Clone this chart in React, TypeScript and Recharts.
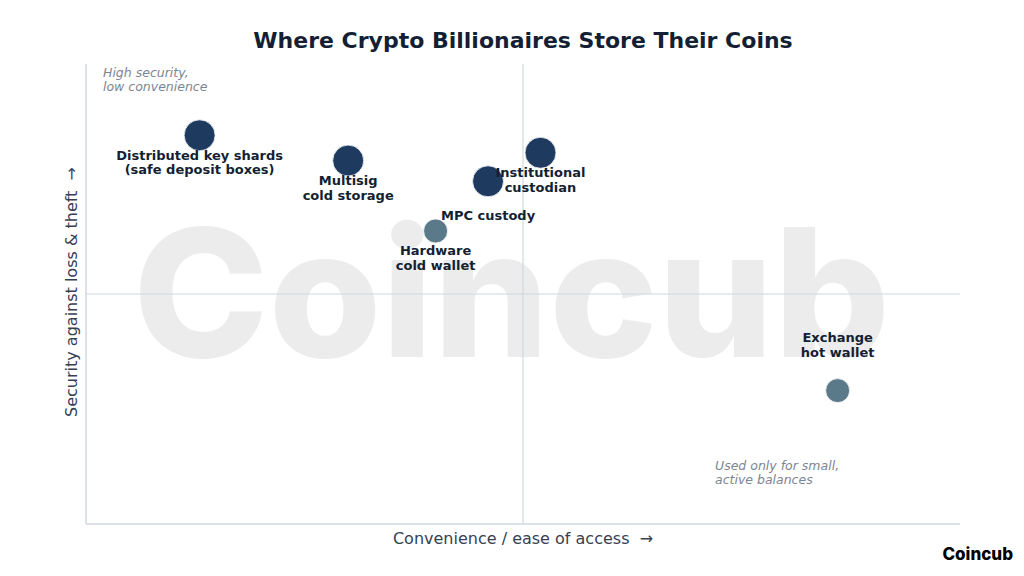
import { ScatterChart, Scatter, XAxis, YAxis, ReferenceLine, Cell } from "recharts";

const names = [
  "Distributed key shards\n(safe deposit boxes)",
  "Multisig\ncold storage",
  "MPC custody",
  "Institutional\ncustodian",
  "Hardware\ncold wallet",
  "Exchange\nhot wallet",
];
const convenience = [1.3, 3.0, 4.6, 5.2, 4.0, 8.6];
const security = [8.45, 7.9, 7.45, 8.07, 6.37, 2.9];
const tier = ["vault", "vault", "vault", "vault", "device", "hot"];

const data = names.map((name, i) => ({
  name,
  x: convenience[i],
  y: security[i],
  tier: tier[i],
}));

// label offset from the dot centre, per point
const labelOffset: Record<string, number> = {
  "MPC custody": 34,
  "Exchange\nhot wallet": -53,
};

const FONT = "'DejaVu Sans', sans-serif";
const DARK = "#1e3a5f";
const LIGHT = "#5b7a89";
const TEXT = "#141f33";
const GRID = "#cfd8e3";

function Dot(props: any) {
  const { cx, cy, payload } = props;
  const big = payload.tier === "vault";
  const r = big ? 15.5 : 12;
  const dy = labelOffset[payload.name] ?? 20;
  const lines = payload.name.split("\n");
  return (
    <g>
      <circle cx={cx} cy={cy} r={r} fill={big ? DARK : LIGHT} stroke="#ffffff" strokeWidth={0.8} />
      {lines.map((l: string, i: number) => (
        <text
          key={i}
          x={cx}
          y={cy + dy + i * 14.5}
          textAnchor="middle"
          dominantBaseline="central"
          fontFamily={FONT}
          fontWeight="bold"
          fontSize={13}
          fill={TEXT}
        >
          {l}
        </text>
      ))}
    </g>
  );
}

export default function App() {
  return (
    <div style={{ position: "absolute", left: 0, top: 0, width: 1024, height: 576, background: "#ffffff", overflow: "hidden" }}>
      <svg width={1024} height={576} style={{ position: "absolute", left: 0, top: 0 }}>
        <text
          x={133}
          y={357}
          textLength={757}
          lengthAdjust="spacingAndGlyphs"
          fontFamily="Inter, sans-serif"
          fontWeight={800}
          fontSize={178}
          fill="#ececec"
        >
          Coincub
        </text>
      </svg>
      <div style={{ position: "absolute", left: 0, top: 0 }}>
        <ScatterChart width={1024} height={576} margin={{ top: 64, right: 64, bottom: 52, left: 86 }}>
          <XAxis type="number" dataKey="x" domain={[0, 10]} height={0} tick={false} tickLine={false} axisLine={false} />
          <YAxis type="number" dataKey="y" domain={[0, 10]} width={0} tick={false} tickLine={false} axisLine={false} />
          <ReferenceLine x={0} stroke={GRID} strokeWidth={1.5} />
          <ReferenceLine y={0} stroke={GRID} strokeWidth={1.5} />
          <ReferenceLine x={5} stroke={GRID} strokeWidth={1.2} />
          <ReferenceLine y={5} stroke={GRID} strokeWidth={1.2} />
          <Scatter data={data} shape={Dot} isAnimationActive={false}>
            {data.map((d, i) => (
              <Cell key={i} fill={d.tier === "vault" ? DARK : LIGHT} />
            ))}
          </Scatter>
        </ScatterChart>
      </div>
      <svg width={1024} height={576} style={{ position: "absolute", left: 0, top: 0, pointerEvents: "none" }}>
        <text x={523} y={40} textAnchor="middle" dominantBaseline="central" fontFamily={FONT} fontWeight="bold" fontSize={22} fill={TEXT}>
          Where Crypto Billionaires Store Their Coins
        </text>
        <text x={523} y={538} textAnchor="middle" dominantBaseline="central" fontFamily={FONT} fontSize={16} fill="#364152">
          {"Convenience / ease of access\u00a0\u00a0→"}
        </text>
        <text
          x={71}
          y={292}
          textAnchor="middle"
          dominantBaseline="central"
          fontFamily={FONT}
          fontSize={16}
          fill="#364152"
          transform="rotate(-90 71 292)"
        >
          {"Security against loss & theft\u00a0\u00a0→"}
        </text>
        <text x={103} y={72} dominantBaseline="central" fontFamily={FONT} fontStyle="italic" fontSize={12.5} fill="#7c8593">
          High security,
        </text>
        <text x={103} y={86} dominantBaseline="central" fontFamily={FONT} fontStyle="italic" fontSize={12.5} fill="#7c8593">
          low convenience
        </text>
        <text x={715} y={465} dominantBaseline="central" fontFamily={FONT} fontStyle="italic" fontSize={12.5} fill="#7c8593">
          Used only for small,
        </text>
        <text x={715} y={479} dominantBaseline="central" fontFamily={FONT} fontStyle="italic" fontSize={12.5} fill="#7c8593">
          active balances
        </text>
        <text x={1013} y={554} textAnchor="end" dominantBaseline="central" fontFamily="Inter, sans-serif" fontWeight={800} fontSize={17} fill="#000000">
          Coincub
        </text>
      </svg>
    </div>
  );
}
